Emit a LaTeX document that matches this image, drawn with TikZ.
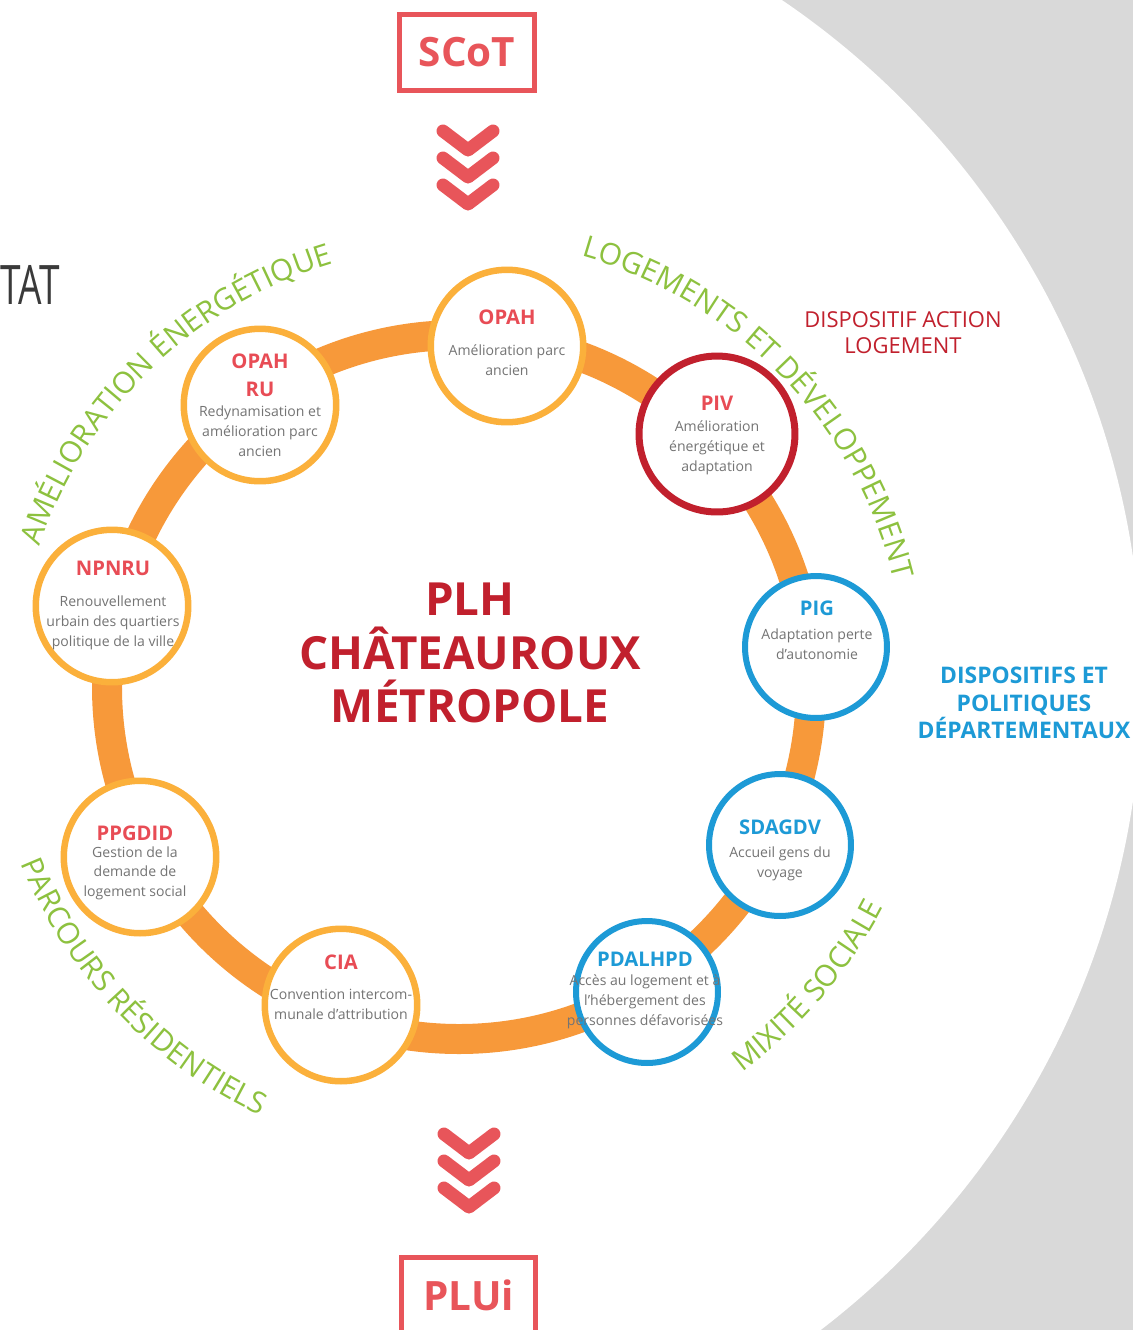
\documentclass[tikz,border=0pt]{standalone}
\usepackage{fontspec}
\setmainfont{Open Sans}
\usepackage{tikz}
\usetikzlibrary{positioning, calc, decorations.text}
\definecolor{ringorange}{HTML}{F7993A}
\definecolor{rimorange}{HTML}{FBB03B}
\definecolor{plhred}{HTML}{C1202D}
\definecolor{titlered}{HTML}{E84C55}
\definecolor{framered}{HTML}{E8555A}
\definecolor{deptblue}{HTML}{1D9AD6}
\definecolor{axisgreen}{HTML}{8DC13F}
\definecolor{descgray}{HTML}{747474}
\definecolor{bggray}{HTML}{D9D9D9}
\definecolor{tatgray}{HTML}{3A3A3A}
\newcommand{\sttitle}[2][titlered]{{\color{#1}\fontsize{11.5}{14}\selectfont\bfseries #2}}
\newcommand{\arcfont}{\fontsize{17}{20}\selectfont}
\tikzset{
  station/.style={
    circle, draw=#1, line width=0.13cm, fill=white,
    minimum size=3.05cm, inner sep=0pt
  },
  smallstation/.style={
    station=#1, line width=0.12cm, minimum size=2.84cm
  },
  stationtext/.style={
    anchor=north, align=center, inner sep=0pt, text=descgray,
    font=\fontsize{8}{11.3}\selectfont
  },
  docbox/.style={
    rectangle, draw=framered, line width=0.1cm,
    minimum width=2.7cm, minimum height=1.52cm, inner sep=0pt,
    text=framered, font=\fontsize{23}{28}\selectfont\bfseries
  },
  chevron/.style={draw=framered, line width=0.26cm, line cap=round, line join=round},
  axislabel/.style={
    decorate,
    decoration={text along path, text align=center, text color=axisgreen}
  }
}

\begin{document}
\begin{tikzpicture}[x=0.02cm, y=0.02cm]
  \useasboundingbox (0,0) rectangle (1133,-1330);
  \begin{scope}
    \clip (0,0) rectangle (1133,-1330);
    \fill[bggray] (0,0) rectangle (1133,-1330);
    \fill[white] (322,-679) circle[radius=820];
  \end{scope}

  \node[anchor=west, inner sep=0pt, text=tatgray, font=\fontsize{31}{31}\selectfont] (etat) at (0,-285)
    {\scalebox{0.68}[1]{TAT}};

  \node[docbox] (scot) at (467,-52) {SCoT};
  \draw[chevron] (443,-131) -- (468,-150) -- (493,-131);
  \draw[chevron] (443,-158) -- (468,-177) -- (493,-158);
  \draw[chevron] (443,-185) -- (468,-204) -- (493,-185);

  \coordinate (ringc) at (459,-687);
  \draw[ringorange, line width=0.6cm] (ringc) circle[radius=352];

  \node[station=rimorange] (opah) at (507,-346) {};
  \node[station=rimorange] (opahru) at (260,-405) {};
  \node[station=rimorange] (npnru) at (112,-606) {};
  \node[station=rimorange] (ppgdid) at (140,-857) {};
  \node[station=rimorange] (cia) at (341,-1005) {};
  \node[smallstation=deptblue] (pdalhpd) at (647,-992) {};
  \node[smallstation=deptblue] (sdagdv) at (780,-845) {};
  \node[smallstation=deptblue] (pig) at (816,-647) {};
  \node[station=plhred, line width=0.14cm, minimum size=3.12cm] (piv) at (717,-434) {};

  \node[stationtext] (opah-lbl) at (507,-309.5)
    {\sttitle{OPAH}\\[6.6pt] Amélioration parc\\ancien};
  \node[stationtext] (opahru-lbl) at (260,-353.5)
    {\sttitle{OPAH}\\[4.6pt]\sttitle{RU}\\ Redynamisation et\\amélioration parc\\ancien};
  \node[stationtext] (npnru-lbl) at (113,-560.5)
    {\sttitle{NPNRU}\\[6.6pt] Renouvellement\\urbain des quartiers\\politique de la ville};
  \node[stationtext] (ppgdid-lbl) at (135,-825.5)
    {\sttitle{PPGDID}\\[-1.9pt] Gestion de la\\demande de\\logement social};
  \node[stationtext] (cia-lbl) at (341,-954.5)
    {\sttitle{CIA}\\[6pt] Convention intercom-\\munale d’attribution};
  \node[stationtext] (pdalhpd-lbl) at (645,-951.5)
    {\sttitle[deptblue]{PDALHPD}\\[-0.3pt] Accès au logement et à\\l’hébergement des\\personnes défavorisées};
  \node[stationtext] (sdagdv-lbl) at (780,-819.5)
    {\sttitle[deptblue]{SDAGDV}\\[2pt] Accueil gens du\\voyage};
  \node[stationtext] (pig-lbl) at (817,-600.5)
    {\sttitle[deptblue]{PIG}\\[2.6pt] Adaptation perte\\d’autonomie};
  \node[stationtext] (piv-lbl) at (717,-395.5)
    {\sttitle{PIV}\\[1pt] Amélioration\\énergétique et\\adaptation};

  \node[align=center, inner sep=0pt, text=plhred, font=\fontsize{26}{30.6}\selectfont\bfseries] (plh) at (470,-653)
    {PLH\\CHÂTEAUROUX\\MÉTROPOLE};

  \node[align=center, inner sep=0pt, text=plhred, font=\fontsize{12.5}{14.7}\selectfont] (actionlog) at (903,-333)
    {DISPOSITIF ACTION\\LOGEMENT};
  \node[align=center, inner sep=0pt, text=deptblue, font=\fontsize{13}{15.6}\selectfont\bfseries] (dept) at (1024,-703)
    {DISPOSITIFS ET\\POLITIQUES\\DÉPARTEMENTAUX};

  \path[axislabel, decoration={text={|\arcfont|AM{É}LIORATION {É}NERG{É}TIQUE}}]
    ($(ringc)+(170:442)$) arc[start angle=170, end angle=98, radius=442];
  \path[axislabel, decoration={text={|\arcfont|LOGEMENTS ET D{É}VELOPPEMENT}}]
    ($(ringc)+(84:448)$) arc[start angle=84, end angle=4, radius=448];
  \path[axislabel, decoration={text={|\arcfont|MIXIT{É} SOCIALE}}]
    ($(ringc)+(-63:478)$) arc[start angle=-63, end angle=-18, radius=478];
  \path[axislabel, decoration={text={|\arcfont|PARCOURS R{É}SIDENTIELS}}]
    ($(ringc)+(-166:472)$) arc[start angle=-166, end angle=-107, radius=472];

  \draw[chevron] (444,-1134) -- (469,-1153) -- (494,-1134);
  \draw[chevron] (444,-1161) -- (469,-1180) -- (494,-1161);
  \draw[chevron] (444,-1188) -- (469,-1207) -- (494,-1188);
  \node[docbox] (plui) at (468.5,-1295) {PLUi};
\end{tikzpicture}
\end{document}
